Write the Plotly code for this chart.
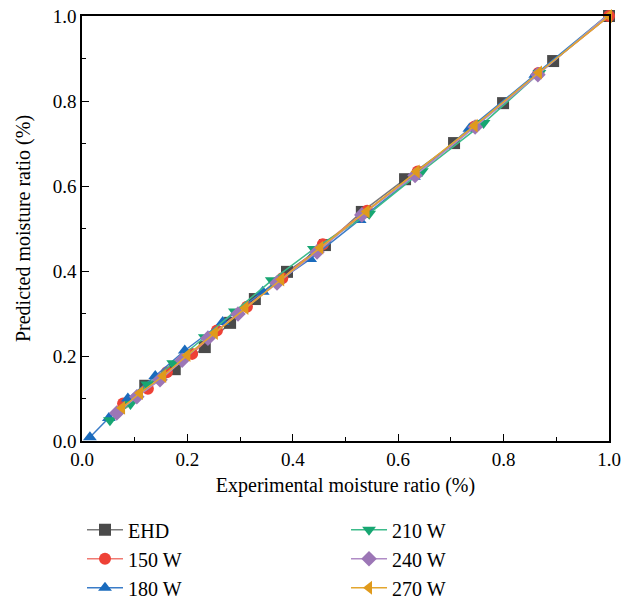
import plotly.graph_objects as go

ehd_x = [0.12, 0.176, 0.233, 0.281, 0.328, 0.389, 0.461, 0.531, 0.613, 0.706, 0.799, 0.894, 1.0]
ehd_y = [0.13, 0.169, 0.221, 0.278, 0.334, 0.398, 0.461, 0.539, 0.616, 0.701, 0.795, 0.894, 1.0]

w150_x = [0.078, 0.125, 0.161, 0.209, 0.256, 0.313, 0.38, 0.457, 0.541, 0.637, 0.745, 0.866, 1.0]
w150_y = [0.088, 0.123, 0.162, 0.205, 0.26, 0.316, 0.383, 0.463, 0.542, 0.634, 0.74, 0.866, 1.0]

w180_x = [0.015, 0.051, 0.087, 0.139, 0.195, 0.267, 0.343, 0.433, 0.527, 0.63, 0.735, 0.86, 1.0]
w180_y = [0.009, 0.054, 0.1, 0.153, 0.213, 0.28, 0.351, 0.428, 0.52, 0.622, 0.735, 0.862, 1.005]

w210_x = [0.053, 0.092, 0.124, 0.173, 0.233, 0.29, 0.36, 0.44, 0.545, 0.645, 0.762, 0.868, 1.0]
w210_y = [0.049, 0.087, 0.133, 0.183, 0.244, 0.305, 0.378, 0.452, 0.535, 0.635, 0.748, 0.866, 1.005]

w240_x = [0.066, 0.104, 0.148, 0.19, 0.239, 0.296, 0.37, 0.446, 0.531, 0.632, 0.746, 0.865, 1.0]
w240_y = [0.066, 0.104, 0.144, 0.19, 0.242, 0.299, 0.372, 0.445, 0.532, 0.625, 0.739, 0.862, 1.005]

w270_x = [0.076, 0.11, 0.154, 0.2, 0.252, 0.31, 0.378, 0.452, 0.54, 0.635, 0.745, 0.867, 1.0]
w270_y = [0.078, 0.113, 0.153, 0.202, 0.254, 0.313, 0.38, 0.455, 0.54, 0.634, 0.742, 0.867, 1.0]

x_ticks = [0.0, 0.2, 0.4, 0.6, 0.8, 1.0]

FONT = "Liberation Serif"

series = [
    ("EHD", ehd_x, ehd_y, "square", "#7a7a7a", "#4a4a4a", "legend"),
    ("150 W", w150_x, w150_y, "circle", "#f07a72", "#ee4136", "legend"),
    ("180 W", w180_x, w180_y, "triangle-up", "#3a7cc8", "#1a6bbd", "legend"),
    ("210 W", w210_x, w210_y, "triangle-down", "#3cbb8a", "#17a672", "legend2"),
    ("240 W", w240_x, w240_y, "diamond", "#b08cc6", "#9c76b6", "legend2"),
    ("270 W", w270_x, w270_y, "triangle-left", "#e3a62e", "#e09a1c", "legend2"),
]

fig = go.Figure()
for name, xs, ys, sym, lc, mc, lg in series:
    fig.add_trace(go.Scatter(
        x=xs, y=ys, name=name, mode="lines+markers",
        line=dict(color=lc, width=1.5),
        marker=dict(symbol=sym, size=12, color=mc, line=dict(width=0)),
        cliponaxis=False, legend=lg,
    ))

axis_common = dict(
    range=[0, 1], showline=True, linecolor="black", linewidth=1.5, mirror=True,
    ticks="inside", ticklen=7, tickwidth=1.2, tickcolor="black",
    tickvals=x_ticks, tickformat=".1f", showgrid=False, zeroline=False,
    automargin=False,
    minor=dict(ticks="inside", ticklen=4, tickwidth=1, tickcolor="black", dtick=0.1, showgrid=False),
    tickfont=dict(family=FONT, size=19, color="black"),
)

legend_common = dict(
    xanchor="left", yanchor="top",
    font=dict(family=FONT, size=20, color="black"),
    bgcolor="rgba(0,0,0,0)", tracegroupgap=0, itemwidth=36,
)

fig.update_layout(
    width=621, height=601,
    margin=dict(l=82, r=12, t=16, b=160, autoexpand=False),
    plot_bgcolor="white", paper_bgcolor="white",
    xaxis=dict(**axis_common, title=dict(text="Experimental moisture ratio (%)",
               font=dict(family=FONT, size=20, color="black"), standoff=9)),
    yaxis=dict(**axis_common, title=dict(text="Predicted moisture ratio (%)",
               font=dict(family=FONT, size=20, color="black"), standoff=17)),
    legend=dict(x=0.0, y=-0.163, **legend_common),
    legend2=dict(x=0.501, y=-0.163, **legend_common),
)

fig.write_html("out.html")
